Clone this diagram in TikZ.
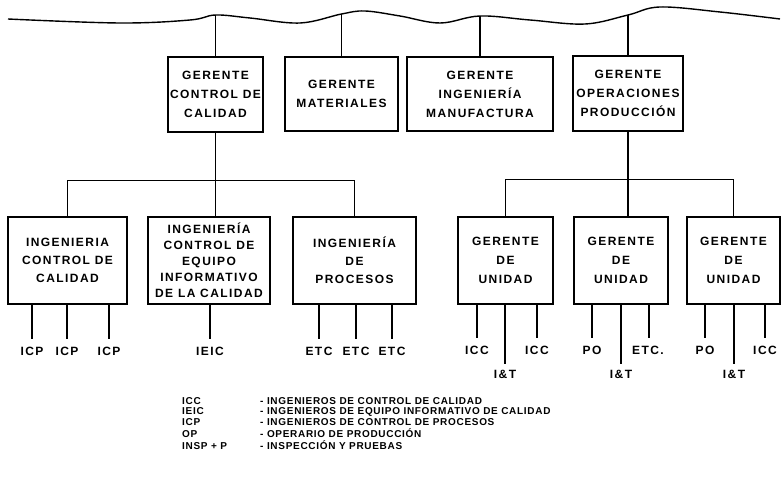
\documentclass[tikz,border=0pt]{standalone}
\usepackage{fontspec}
\setmainfont{Liberation Sans}[LetterSpace=12]
\usetikzlibrary{positioning}

\begin{document}
\begin{tikzpicture}[
  x=1pt, y=-1pt,
  box/.style={draw, line width=1.4pt, align=center, inner sep=0pt, font=\bfseries\fontsize{12}{19}\selectfont},
  unit/.style={box, minimum height=87pt},
  link/.style={line width=1.4pt},
  leaf/.style={inner sep=0pt, font=\bfseries\fontsize{12}{14}\selectfont},
]
\useasboundingbox (0,0) rectangle (781,481);

% linea superior ondulada
\draw[link] plot[smooth, tension=0.6] coordinates {(8,19) (120,23) (190,20) (215.5,15) (250,18) (300,23) (341.5,14) (365,11) (400,16) (440,23) (480,16) (530,20) (585,24) (628,15) (660,7) (720,12) (780,19)};
\coordinate (w1) at (215.5,15);
\coordinate (w2) at (341.5,14);
\coordinate (w3) at (480,16);
\coordinate (w4) at (628,15);

% gerentes
\node[box, minimum width=95pt, minimum height=75pt] (gcc) at (215.5,94.5) {GERENTE\\CONTROL DE\\CALIDAD};
\node[box, minimum width=113pt, minimum height=74pt] (gmat) at (341.5,94) {GERENTE\\MATERIALES};
\node[box, minimum width=146pt, minimum height=74pt] (gim) at (480,94) {GERENTE\\INGENIERÍA\\MANUFACTURA};
\node[box, minimum width=110pt, minimum height=75pt] (gop) at (628,93.5) {GERENTE\\OPERACIONES\\PRODUCCIÓN};

\draw[link] (w1) -- (gcc.north);
\draw[link] (w2) -- (gmat.north);
\draw[link] (w3) -- (gim.north);
\draw[link] (w4) -- (gop.north);

% departamentos de calidad
\node[unit, minimum width=119pt, font=\bfseries\fontsize{12}{18}\selectfont] (ingcc) at (67.5,260.5) {INGENIERIA\\CONTROL DE\\CALIDAD};
\node[unit, minimum width=122pt, font=\bfseries\fontsize{12}{16}\selectfont] (ingeic) at (209,260.5) {INGENIERÍA\\CONTROL DE\\EQUIPO\\INFORMATIVO\\DE LA CALIDAD};
\node[unit, minimum width=123pt, font=\bfseries\fontsize{12}{18}\selectfont] (ingp) at (354.5,260.5) {INGENIERÍA\\DE\\PROCESOS};

% unidades de produccion
\node[unit, minimum width=95pt] (gu1) at (505.5,260.5) {GERENTE\\DE\\UNIDAD};
\node[unit, minimum width=94pt] (gu2) at (621,260.5) {GERENTE\\DE\\UNIDAD};
\node[unit, minimum width=93pt] (gu3) at (733.5,260.5) {GERENTE\\DE\\UNIDAD};

\draw[link] (gcc.south) -- ++(0,48) coordinate (busL);
\draw[link] (ingcc.north) |- (busL) -| (ingp.north);
\draw[link] (busL) -- (busL |- ingeic.north);

\draw[link] (gop.south) -- ++(0,48) coordinate (busR);
\draw[link] (gu1.north) |- (busR) -| (gu3.north);
\draw[link] (busR) -- (busR |- gu2.north);

% personal
\node[leaf] (icp1) at (32,351) {ICP};
\node[leaf] (icp2) at (67,351) {ICP};
\node[leaf] (icp3) at (109,351) {ICP};
\node[leaf] (ieic) at (210,351) {IEIC};
\node[leaf] (etc1) at (319,351) {ETC};
\node[leaf] (etc2) at (356,351) {ETC};
\node[leaf] (etc3) at (392,351) {ETC};
\node[leaf] (icc1) at (477,350) {ICC};
\node[leaf] (it1) at (505,374) {I\&T};
\node[leaf] (icc2) at (537,350) {ICC};
\node[leaf] (po1) at (592,350) {PO};
\node[leaf] (it2) at (621,374) {I\&T};
\node[leaf] (etc4) at (648,350) {ETC.};
\node[leaf] (po2) at (705,350) {PO};
\node[leaf] (it3) at (734,374) {I\&T};
\node[leaf] (icc3) at (765,350) {ICC};

\draw[link] (icp1 |- ingcc.south) -- ([yshift=7.5pt]icp1.north);
\draw[link] (icp2 |- ingcc.south) -- ([yshift=7.5pt]icp2.north);
\draw[link] (icp3 |- ingcc.south) -- ([yshift=7.5pt]icp3.north);
\draw[link] (ieic |- ingeic.south) -- ([yshift=7.5pt]ieic.north);
\draw[link] (etc1 |- ingp.south) -- ([yshift=7.5pt]etc1.north);
\draw[link] (etc2 |- ingp.south) -- ([yshift=7.5pt]etc2.north);
\draw[link] (etc3 |- ingp.south) -- ([yshift=7.5pt]etc3.north);
\draw[link] (icc1 |- gu1.south) -- ([yshift=7.5pt]icc1.north);
\draw[link] (it1 |- gu1.south) -- ([yshift=6pt]it1.north);
\draw[link] (icc2 |- gu1.south) -- ([yshift=7.5pt]icc2.north);
\draw[link] (po1 |- gu2.south) -- ([yshift=7.5pt]po1.north);
\draw[link] (it2 |- gu2.south) -- ([yshift=6pt]it2.north);
\draw[link] ([xshift=1pt]etc4 |- gu2.south) -- ([xshift=1pt, yshift=7.5pt]etc4.north);
\draw[link] (po2 |- gu3.south) -- ([yshift=7.5pt]po2.north);
\draw[link] (it3 |- gu3.south) -- ([yshift=6pt]it3.north);
\draw[link] (icc3 |- gu3.south) -- ([yshift=7.5pt]icc3.north);

% leyenda
\node[anchor=base west, inner sep=0pt, font=\bfseries\fontsize{10}{10.8}\selectfont\addfontfeatures{LetterSpace=7}] (leyenda) at (182,404) {%
  \begin{tabular}[t]{@{}p{78pt}@{}l@{}}
    ICC & - INGENIEROS DE CONTROL DE CALIDAD\\
    IEIC & - INGENIEROS DE EQUIPO INFORMATIVO DE CALIDAD\\
    ICP & - INGENIEROS DE CONTROL DE PROCESOS\\
    OP & - OPERARIO DE PRODUCCIÓN\\
    INSP + P & - INSPECCIÓN Y PRUEBAS
  \end{tabular}};
\end{tikzpicture}
\end{document}
